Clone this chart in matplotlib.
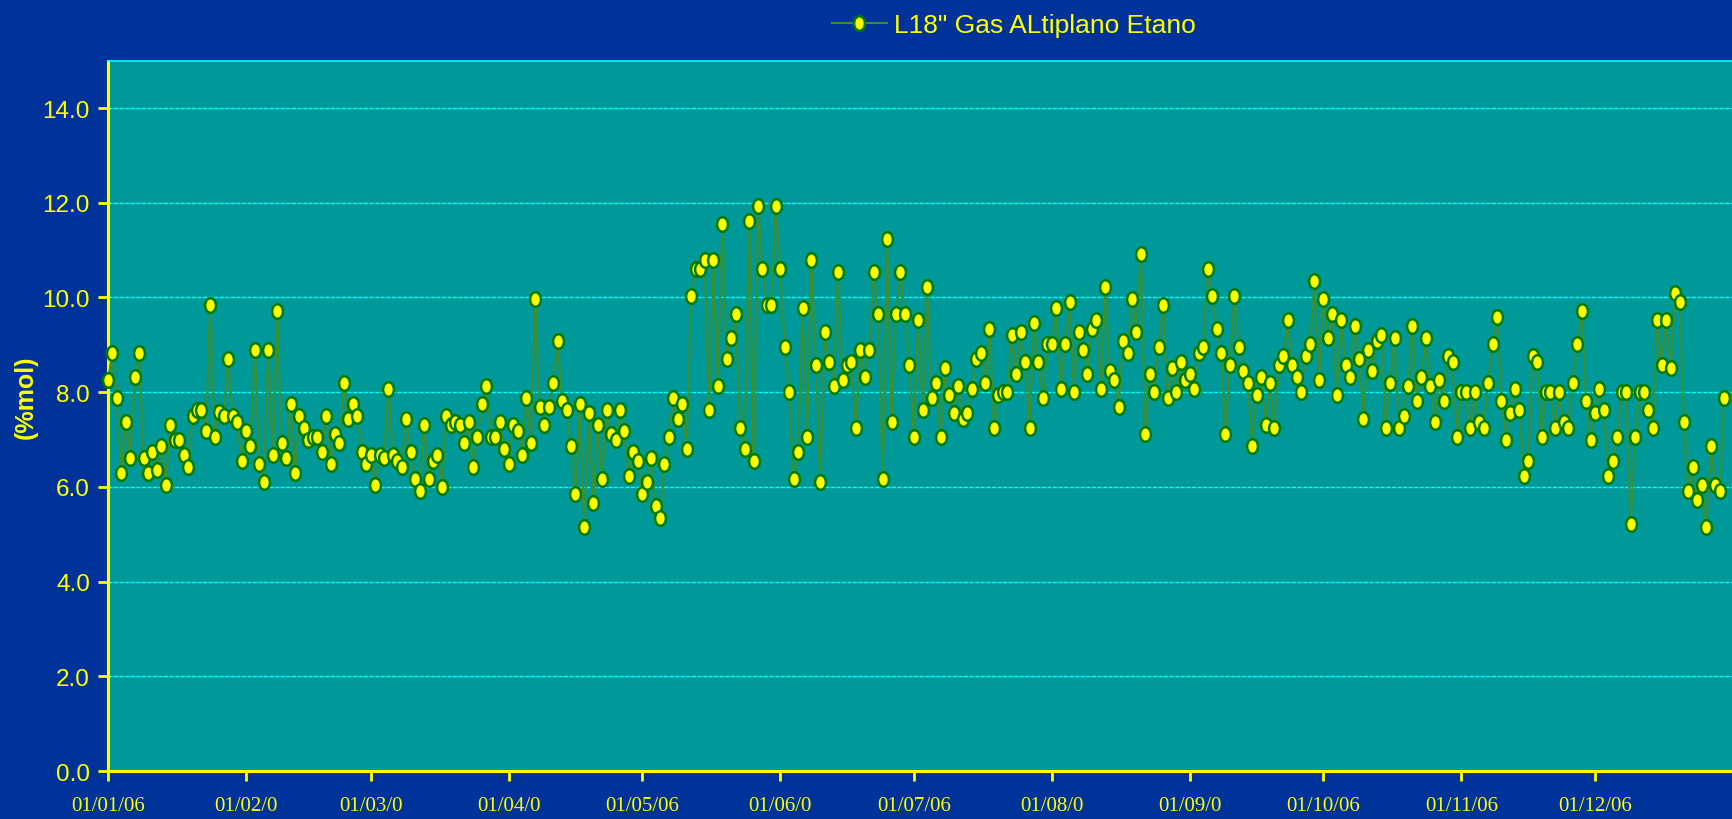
import numpy as np
import pandas as pd
import matplotlib
matplotlib.use("Agg")
import matplotlib.pyplot as plt
from matplotlib.path import Path

# Etano (%mol) daily readings, grouped in ~45-day chunks
vals_jan_feb = [8.26, 8.83, 7.88, 6.29, 7.37, 6.61, 8.32, 8.83, 6.61, 6.29, 6.74, 6.36,
                6.87, 6.04, 7.31, 6.99, 6.99, 6.68, 6.42, 7.50, 7.63, 7.63, 7.18, 9.85,
                7.06, 7.58, 7.50, 8.70, 7.50, 7.37, 6.55, 7.18, 6.87, 8.89, 6.49, 6.11,
                8.89, 6.68, 9.72, 6.93, 6.61, 7.75, 6.29, 7.50, 7.25, 6.99, 7.06]
vals_feb_mar = [7.06, 6.74, 7.50, 6.49, 7.12, 6.93, 8.20, 7.44, 7.75, 7.50, 6.74, 6.49,
                6.68, 6.04, 6.68, 6.61, 8.07, 6.68, 6.55, 6.42, 7.44, 6.74, 6.17, 5.92,
                7.31, 6.17, 6.55, 6.68, 5.99, 7.50, 7.31, 7.37, 7.31, 6.93, 7.37, 6.42,
                7.06, 7.75, 8.13, 7.06, 7.06, 7.37, 6.80, 6.49, 7.31]
vals_apr_may = [7.18, 6.68, 7.88, 6.93, 9.97, 7.69, 7.31, 7.69, 8.20, 9.08, 7.82, 7.63,
                6.87, 5.85, 7.75, 5.15, 7.56, 5.66, 7.31, 6.17, 7.63, 7.12, 6.99, 7.63,
                7.18, 6.23, 6.74, 6.55, 5.85, 6.11, 6.61, 5.60, 5.35, 6.49, 7.06, 7.88,
                7.44, 7.75, 6.80, 10.04, 10.61, 10.61, 10.80, 7.63, 10.80]
vals_may_jun = [8.13, 11.56, 8.70, 9.15, 9.65, 7.25, 6.80, 11.62, 6.55, 11.94, 10.61, 9.85,
                9.85, 11.94, 10.61, 8.96, 8.01, 6.17, 6.74, 9.78, 7.06, 10.80, 8.58, 6.11,
                9.27, 8.64, 8.13, 10.54, 8.26, 8.58, 8.64, 7.25, 8.89, 8.32, 8.89, 10.54,
                9.65, 6.17, 11.24, 7.37, 9.65, 10.54, 9.65, 8.58, 7.06]
vals_jul_aug = [9.53, 7.63, 10.23, 7.88, 8.20, 7.06, 8.51, 7.94, 7.56, 8.13, 7.44, 7.56,
                8.07, 8.70, 8.83, 8.20, 9.34, 7.25, 7.94, 8.01, 8.01, 9.21, 8.39, 9.27,
                8.64, 7.25, 9.46, 8.64, 7.88, 9.02, 9.02, 9.78, 8.07, 9.02, 9.91, 8.01,
                9.27, 8.89, 8.39, 9.34, 9.53, 8.07, 10.23, 8.45]
vals_aug_sep = [8.26, 7.69, 9.08, 8.83, 9.97, 9.27, 10.92, 7.12, 8.39, 8.01, 8.96, 9.85,
                7.88, 8.51, 8.01, 8.64, 8.26, 8.39, 8.07, 8.83, 8.96, 10.61, 10.04, 9.34,
                8.83, 7.12, 8.58, 10.04, 8.96, 8.45, 8.20, 6.87, 7.94, 8.32, 7.31, 8.20,
                7.25, 8.58, 8.77, 9.53, 8.58, 8.32, 8.01, 8.77, 9.02, 10.35]
vals_oct_nov = [8.26, 9.97, 9.15, 9.65, 7.94, 9.53, 8.58, 8.32, 9.40, 8.70, 7.44, 8.89,
                8.45, 9.08, 9.21, 7.25, 8.20, 9.15, 7.25, 7.50, 8.13, 9.40, 7.82, 8.32,
                9.15, 8.13, 7.37, 8.26, 7.82, 8.77, 8.64, 7.06, 8.01, 8.01, 7.25, 8.01,
                7.37, 7.25, 8.20, 9.02, 9.59, 7.82, 6.99, 7.56, 8.07]
vals_nov_dec = [7.63, 6.23, 6.55, 8.77, 8.64, 7.06, 8.01, 8.01, 7.25, 8.01, 7.37, 7.25,
                8.20, 9.02, 9.72, 7.82, 6.99, 7.56, 8.07, 7.63, 6.23, 6.55, 7.06, 8.01,
                8.01, 5.22, 7.06, 8.01, 8.01, 7.63, 7.25, 9.53, 8.58, 9.53, 8.51, 10.10,
                9.91, 7.37, 5.92, 6.42, 5.72, 6.04, 5.15, 6.87, 6.04, 5.92, 7.88]

series_label = 'L18" Gas ALtiplano Etano'
y_label = "(%mol)"
x_tick_labels = ["01/01/06", "01/02/0", "01/03/0", "01/04/0", "01/05/06", "01/06/0",
                 "01/07/06", "01/08/0", "01/09/0", "01/10/06", "01/11/06", "01/12/06"]

values = (vals_jan_feb + vals_feb_mar + vals_apr_may + vals_may_jun +
          vals_jul_aug + vals_aug_sep + vals_oct_nov + vals_nov_dec)
dates = pd.date_range("2006-01-01", periods=len(values), freq="D")
month_starts = pd.date_range("2006-01-01", periods=12, freq="MS")

BG = "#003399"
PLOT_BG = "#009999"
YELLOW = "#ffff00"
sans = ["Liberation Sans", "DejaVu Sans"]
serif = ["Liberation Serif", "DejaVu Serif"]

# tall ellipse marker like the original
circ = Path.unit_circle()
ellipse = Path(circ.vertices * np.array([1.0, 1.35]), circ.codes)

fig = plt.figure(figsize=(17.33, 8.2), dpi=100, facecolor=BG)
ax = fig.add_axes([0.0623, 0.0585, 0.9377, 0.8663], facecolor=PLOT_BG)

line, = ax.plot(dates, values, color="#3c9030", linewidth=1.5,
                marker=ellipse, markersize=10.5, markerfacecolor=YELLOW,
                markeredgecolor="#007a00", markeredgewidth=1.8,
                clip_on=False, zorder=3, label=series_label)

ax.set_xlim(pd.Timestamp("2006-01-01"), pd.Timestamp("2007-01-01"))
ax.set_ylim(0, 15)
ax.set_yticks(np.arange(0, 15, 2))
ax.set_yticklabels([f"{v:.1f}" for v in np.arange(0, 15, 2)])
ax.set_xticks(month_starts)
ax.set_xticklabels(x_tick_labels)

ax.yaxis.grid(True, color="#00ffff", linestyle=(0, (3, 1)), linewidth=1)
ax.set_axisbelow(True)

for side in ["left", "bottom"]:
    ax.spines[side].set_color(YELLOW)
    ax.spines[side].set_linewidth(2.2)
ax.spines["top"].set_color("#00ffff")
ax.spines["top"].set_linewidth(1.2)
ax.spines["right"].set_visible(False)

ax.tick_params(axis="x", colors=YELLOW, length=7, width=2, pad=11)
ax.tick_params(axis="y", colors=YELLOW, length=7, width=2, pad=6)
for lbl in ax.get_xticklabels():
    lbl.set_family(serif)
    lbl.set_fontsize(15)
for lbl in ax.get_yticklabels():
    lbl.set_family(sans)
    lbl.set_fontsize(17.5)

fig.text(0.015, 0.515, y_label, rotation=90, color=YELLOW, fontsize=18,
         fontweight="bold", family=sans, ha="center", va="center")

fig.legend([line], [series_label], loc="center", bbox_to_anchor=(0.585, 0.968),
           frameon=False, numpoints=1, handlelength=2.1, handletextpad=0.27,
           labelcolor=YELLOW, prop={"family": sans, "size": 19})

fig.savefig("out.png", dpi=100, facecolor=BG)
